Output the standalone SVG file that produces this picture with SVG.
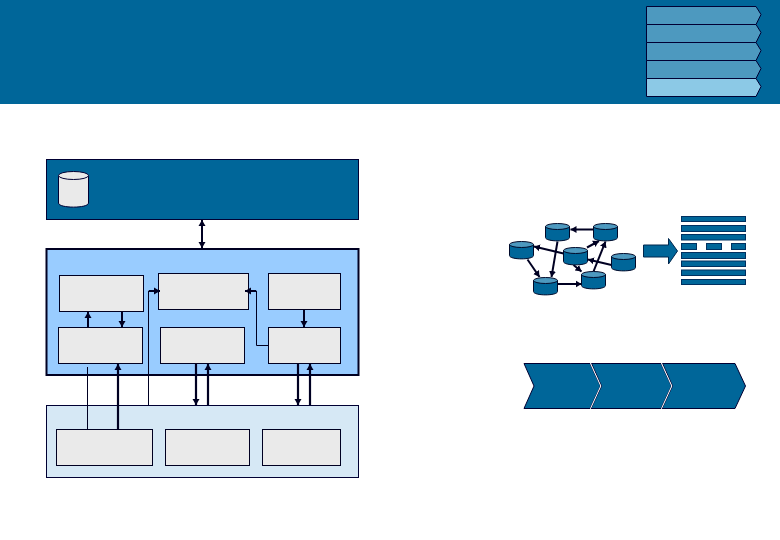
<svg xmlns="http://www.w3.org/2000/svg" width="780" height="540" viewBox="0 0 780 540">
<style>
.band{stroke:#000033;stroke-width:1}
.box{fill:#eaeaea;stroke:#000022;stroke-width:1}
.bar{fill:#006699;stroke:#003060;stroke-width:1}
.thick{fill:none;stroke:#000022;stroke-width:2.2}
.med{fill:none;stroke:#000022;stroke-width:2}
.thin{fill:none;stroke:#000022;stroke-width:1}
.cyl{fill:#006699;stroke:#000a2a;stroke-width:1}
.cap{fill:#4d99bf;stroke:#000a2a;stroke-width:1}
.chev{fill:#006699;stroke:#000033;stroke-width:1}
</style>
<defs>
<marker id="end" markerUnits="userSpaceOnUse" markerWidth="8" markerHeight="8" refX="6" refY="4" orient="auto-start-reverse"><path d="M0,0.5 L6,4 L0,7.5 Z" fill="#000022"/></marker>
<g id="db"><path class="cyl" d="M0,3.5 V14.5 C0,19 24,19 24,14.5 V3.5 Z"/><ellipse class="cap" cx="12" cy="3.5" rx="12" ry="3"/></g>
</defs>
<rect id="header" x="0" y="0" width="780" height="104" fill="#006699"/>
<g id="legend">
<path class="band" fill="#4d99bf" d="M646.5,6.5H756L761,14.5 756,24.5H646.5Z"/>
<path class="band" fill="#4d99bf" d="M646.5,24.5H756L761,32.5 756,42.5H646.5Z"/>
<path class="band" fill="#4d99bf" d="M646.5,42.5H756L761,50.5 756,60.5H646.5Z"/>
<path class="band" fill="#4d99bf" d="M646.5,60.5H756L761,68.5 756,78.5H646.5Z"/>
<path class="band" fill="#8cc9e6" d="M646.5,78.5H756L761,86.5 756,96.5H646.5Z"/>
</g>
<g id="top-layer">
<rect x="46.5" y="159.5" width="312" height="60" fill="#006699" stroke="#000033"/>
<path d="M58.5,175.5V203C58.5,208.5 88.5,208.5 88.5,203V175.5Z" fill="#eaeaea" stroke="#000033"/>
<ellipse cx="73.5" cy="175.5" rx="15" ry="4" fill="#eaeaea" stroke="#000033"/>
</g>
<g id="middle-layer"><rect x="46.5" y="249" width="312" height="126" fill="#99ccff" stroke="#000022" stroke-width="2"/></g>
<g id="bottom-layer"><rect x="46.5" y="405.5" width="312" height="72" fill="#d6e8f5" stroke="#000033"/></g>
<g id="box-a"><rect class="box" x="59.5" y="275.5" width="84" height="36"/></g>
<g id="box-b"><rect class="box" x="158.5" y="273.5" width="90" height="36"/></g>
<g id="box-c"><rect class="box" x="268.5" y="273.5" width="72" height="36"/></g>
<g id="box-d"><rect class="box" x="58.5" y="327.5" width="84" height="36"/></g>
<g id="box-e"><rect class="box" x="160.5" y="327.5" width="84" height="36"/></g>
<g id="box-f"><rect class="box" x="268.5" y="327.5" width="72" height="36"/></g>
<g id="box-g"><rect class="box" x="56.5" y="429.5" width="96" height="36"/></g>
<g id="box-h"><rect class="box" x="165.5" y="429.5" width="84" height="36"/></g>
<g id="box-i"><rect class="box" x="262.5" y="429.5" width="78" height="36"/></g>
<g id="connectors">
<path class="med" d="M202,220V248" marker-start="url(#end)" marker-end="url(#end)"/>
<path class="med" d="M88,327V312" marker-end="url(#end)"/>
<path class="med" d="M122,311V327" marker-end="url(#end)"/>
<path class="med" d="M304,309V327" marker-end="url(#end)"/>
<path class="thin" d="M268,345.5H256.5V291H250"/>
<path class="med" d="M256,291H245" marker-end="url(#end)"/>
<path class="thin" d="M148.5,405V291H152"/>
<path class="med" d="M149,291H160" marker-end="url(#end)"/>
<path class="thin" d="M87.5,367V429"/>
<path class="thick" d="M118,429V364" marker-end="url(#end)"/>
<path class="thick" d="M196,363V405" marker-end="url(#end)"/>
<path class="thick" d="M208,405V364" marker-end="url(#end)"/>
<path class="thick" d="M298,363V405" marker-end="url(#end)"/>
<path class="thick" d="M310,405V364" marker-end="url(#end)"/>
<path class="med" d="M593.5,229.5H570.5" marker-end="url(#end)"/>
<path class="med" d="M563.5,253.5L534,246.5" marker-end="url(#end)"/>
<path class="med" d="M587,247.5L599,241" marker-end="url(#end)"/>
<path class="med" d="M611.5,265L588,259.5" marker-end="url(#end)"/>
<path class="med" d="M593.5,271.5L605.5,241.5" marker-end="url(#end)"/>
<path class="med" d="M573.5,265L581.5,271.5" marker-end="url(#end)"/>
<path class="med" d="M527.5,259.5L539.5,277" marker-end="url(#end)"/>
<path class="med" d="M557.5,241.5L551.5,277" marker-end="url(#end)"/>
<path class="med" d="M557.5,284H581.5" marker-end="url(#end)"/>
</g>
<g id="network">
<use href="#db" x="545.5" y="223"/>
<use href="#db" x="593.5" y="223"/>
<use href="#db" x="509.5" y="241"/>
<use href="#db" x="563.5" y="247"/>
<use href="#db" x="611.5" y="253"/>
<use href="#db" x="533.5" y="277"/>
<use href="#db" x="581.5" y="271"/>
</g>
<g id="block-arrow"><path d="M643.5,245H668.5V238.5L677.5,251 668.5,264V257H643.5Z" fill="#006699" stroke="#00264d"/></g>
<g id="stack">
<rect class="bar" x="681.5" y="216.5" width="64" height="5"/>
<rect class="bar" x="681.5" y="225.5" width="64" height="6"/>
<rect class="bar" x="681.5" y="234.5" width="64" height="5.5"/>
<rect class="bar" x="681.5" y="243.5" width="15" height="6"/>
<rect class="bar" x="706.5" y="243.5" width="15" height="6"/>
<rect class="bar" x="731.5" y="243.5" width="14" height="6"/>
<rect class="bar" x="681.5" y="252.5" width="64" height="6"/>
<rect class="bar" x="681.5" y="261" width="64" height="5.5"/>
<rect class="bar" x="681.5" y="270" width="64" height="5.5"/>
<rect class="bar" x="681.5" y="279.5" width="64" height="5"/>
</g>
<g id="chevrons">
<path class="chev" d="M524,363.5H590L600.5,386 590,408.5H524L534,386Z"/>
<path class="chev" d="M591.5,363.5H661L671.5,386 661,408.5H591L601.5,386Z"/>
<path class="chev" d="M662.5,363.5H735L745.5,386 735,408.5H662L672.5,386Z"/>
<path d="M590.5,363.5L600.8,386 590.5,408.5M661.5,363.5L671.8,386 661.5,408.5" fill="none" stroke="#fff"/>
</g>
</svg>
